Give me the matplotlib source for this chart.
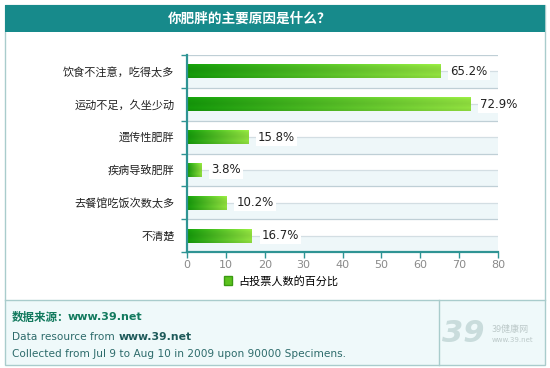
import matplotlib
matplotlib.use('Agg')
import matplotlib.pyplot as plt
import numpy as np
from matplotlib.patches import Rectangle, Patch
from matplotlib.lines import Line2D
from matplotlib.colors import to_rgb

plt.rcParams['font.family'] = ['Noto Sans CJK SC', 'DejaVu Sans']

categories = ['饮食不注意，吃得太多', '运动不足，久坐少动', '遗传性肥胖',
              '疾病导致肥胖', '去餐馆吃饭次数太多', '不清楚']
values = [65.2, 72.9, 15.8, 3.8, 10.2, 16.7]
xticks = [0, 10, 20, 30, 40, 50, 60, 70, 80]
title = '你肥胖的主要原因是什么？'
legend_label = '占投票人数的百分比'

W, H = 550, 368
teal = '#178a8b'
axis_col = '#2f9494'
fig = plt.figure(figsize=(W / 100, H / 100), dpi=100)
fig.patch.set_facecolor('white')

def fx(px):
    return px / W

def fy(py):
    return 1 - py / H

# frame, title bar, footer
fig.patches.append(Rectangle((fx(5), fy(365)), fx(540), 65 / H, transform=fig.transFigure,
                             facecolor='#eff9fa', edgecolor='none', zorder=0))
fig.patches.append(Rectangle((fx(5), fy(365)), fx(540), 360 / H, transform=fig.transFigure,
                             facecolor='none', edgecolor='#a9cccc', lw=1, zorder=1))
fig.patches.append(Rectangle((fx(5), fy(32)), fx(540), 27 / H, transform=fig.transFigure,
                             facecolor=teal, edgecolor='none', zorder=1))
fig.lines.append(Line2D([fx(5), fx(545)], [fy(300), fy(300)], transform=fig.transFigure,
                        color='#a9cccc', lw=1))
fig.lines.append(Line2D([fx(439), fx(439)], [fy(300), fy(365)], transform=fig.transFigure,
                        color='#a9cccc', lw=1))
fig.text(fx(250), fy(18.5), title, color='white', fontsize=9.8, fontweight='bold',
         ha='center', va='center')

ax = fig.add_axes([fx(187), fy(252), fx(311), (252 - 55) / H])
ax.set_zorder(2)
n = len(categories)
y = np.arange(n)

# alternating half-band background and grid lines
for k in range(n):
    ax.axhspan(k, k + 0.5, color='#eef7f9', lw=0, zorder=0)
for g in np.arange(-0.5, n, 0.5):
    boundary = abs(g - round(g)) > 0.1
    ax.axhline(g, color='#bfcfd6' if boundary else '#d3dee3', lw=0.9, zorder=0.5)

bar_h = 0.43
bars = ax.barh(y, values, height=bar_h, color='none', edgecolor='none', zorder=2)
c0 = np.array(to_rgb('#149a0a'))
c1 = np.array(to_rgb('#92e240'))
t = np.linspace(0, 1, 200)
grad = c0[None, :] * (1 - t[:, None]) + c1[None, :] * t[:, None]
vshade = np.array([1.08, 1.0, 0.97, 0.95, 0.97, 1.0, 0.95])
img = np.clip(grad[None, :, :] * vshade[:, None, None], 0, 1)
for b, yi, v in zip(bars, y, values):
    im = ax.imshow(img, extent=[0, v, yi + bar_h / 2, yi - bar_h / 2],
                   aspect='auto', interpolation='bilinear', zorder=2)
    im.set_clip_path(b)
    ax.text(v + 2.5, yi, f'{v}%', va='center', ha='left', fontsize=8.5,
            family='DejaVu Sans', color='#222222', zorder=3,
            bbox=dict(facecolor='white', edgecolor='none', pad=1.5))

ax.set_xlim(0, 80)
ax.set_ylim(n - 0.5, -0.5)
ax.set_xticks(xticks)
ax.set_xticklabels([str(x) for x in xticks], fontsize=8, color='#8a8a8a',
                   family='DejaVu Sans')
ax.set_yticks(y)
ax.set_yticklabels(categories, fontsize=8, color='#222222')
ax.set_yticks(np.arange(-0.5, n, 1), minor=True)
ax.tick_params(axis='y', which='major', length=0, pad=9)
ax.tick_params(axis='y', which='minor', length=4, width=1, color=axis_col, direction='out')
ax.tick_params(axis='x', length=4, width=1, color=axis_col, direction='out', pad=2)
for s in ['top', 'right']:
    ax.spines[s].set_visible(False)
for s in ['left', 'bottom']:
    ax.spines[s].set_color(axis_col)
    ax.spines[s].set_linewidth(1.6)
ax.set_facecolor('white')

fig.legend(handles=[Patch(facecolor='#5cc21e', edgecolor='#3a9a12')], labels=[legend_label],
           loc='center left', bbox_to_anchor=(fx(214), fy(281)), frameon=False,
           fontsize=8, handlelength=0.75, handleheight=0.75, handletextpad=0.5)

# footer text
foot = '#2d6b6b'
t1 = fig.text(fx(12), fy(317), '数据来源：', color='#127a5e', fontsize=8.3,
              fontweight='bold', va='center', ha='left')
ax.annotate('www.39.net', xy=(0.96, 0.5), xycoords=t1, va='center', ha='left',
            fontsize=8, fontweight='bold', color='#127a5e', family='DejaVu Sans',
            annotation_clip=False)
t2 = fig.text(fx(12), fy(337), 'Data resource from ', color=foot, fontsize=7.6,
              va='center', ha='left', family='DejaVu Sans')
ax.annotate('www.39.net', xy=(1, 0.5), xycoords=t2, va='center', ha='left',
            fontsize=7.8, fontweight='bold', color='#1e5a5a', family='DejaVu Sans',
            annotation_clip=False)
fig.text(fx(12), fy(354), 'Collected from Jul 9 to Aug 10 in 2009 upon 90000 Specimens.',
         color=foot, fontsize=7.6, va='center', ha='left', family='DejaVu Sans')

# faint logo
fig.text(fx(485), fy(334), '39', color='#c9dcdc', fontsize=22, fontweight='bold',
         style='italic', ha='right', va='center', family='DejaVu Sans')
fig.text(fx(492), fy(329), '39健康网', color='#bcc9c9', fontsize=6.5, ha='left', va='center')
fig.text(fx(492), fy(340), 'www.39.net', color='#bcc9c9', fontsize=5, ha='left', va='center',
         family='DejaVu Sans')

fig.savefig('out.png', dpi=100)
